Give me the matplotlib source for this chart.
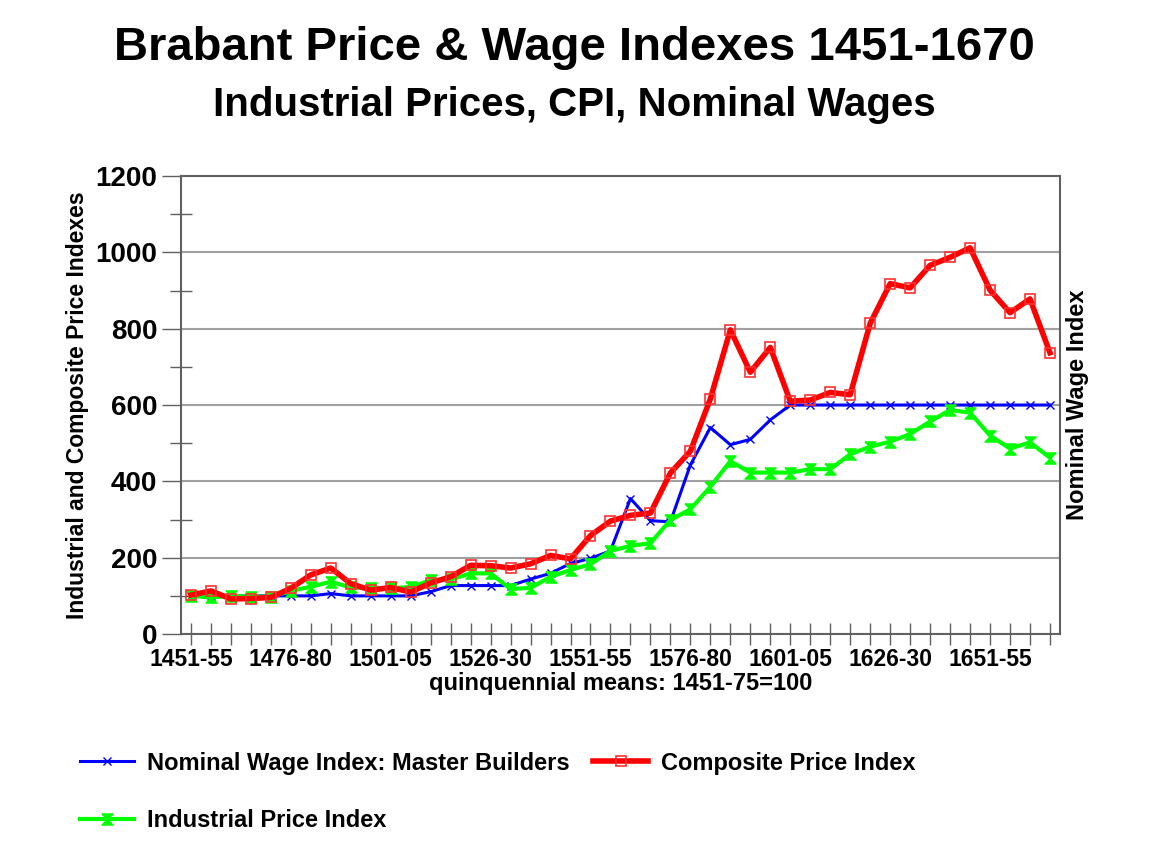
import matplotlib.pyplot as plt
from matplotlib.ticker import MultipleLocator

plt.rcParams['font.family'] = ['Liberation Sans', 'DejaVu Sans']

periods = ['1451-55', '1456-60', '1461-65', '1466-70', '1471-75',
           '1476-80', '1481-85', '1486-90', '1491-95', '1496-00',
           '1501-05', '1506-10', '1511-15', '1516-20', '1521-25',
           '1526-30', '1531-35', '1536-40', '1541-45', '1546-50',
           '1551-55', '1556-60', '1561-65', '1566-70', '1571-75',
           '1576-80', '1581-85', '1586-90', '1591-95', '1596-00',
           '1601-05', '1606-10', '1611-15', '1616-20', '1621-25',
           '1626-30', '1631-35', '1636-40', '1641-45', '1646-50',
           '1651-55', '1656-60', '1661-65', '1666-70']

wage = [100, 100, 100, 100, 100, 100, 100, 106, 100, 100,
        100, 100, 111, 127, 127, 127, 127, 144, 159, 185,
        198, 218, 355, 297, 294, 443, 541, 496, 510, 561,
        600, 600, 600, 600, 600, 600, 600, 600, 600, 600,
        600, 600, 600, 600]

composite = [102, 113, 92, 93, 96, 120, 155, 173, 132, 115,
             122, 110, 134, 150, 180, 179, 173, 184, 206, 197,
             258, 296, 311, 317, 422, 479, 616, 797, 686, 751,
             610, 613, 633, 627, 814, 918, 907, 966, 987, 1012,
             901, 842, 878, 737]

industrial = [100, 96, 100, 98, 98, 113, 124, 137, 122, 120,
              120, 123, 141, 143, 159, 159, 118, 121, 150, 168,
              183, 218, 231, 238, 299, 327, 386, 453, 423, 423,
              423, 432, 432, 471, 491, 504, 524, 557, 587, 580,
              520, 486, 502, 462]

x = list(range(len(periods)))
hourglass = [(-1, 1), (1, 1), (-1, -1), (1, -1), (-1, 1)]

fig = plt.figure(figsize=(11.49, 8.65), dpi=100)
ax = fig.add_axes([0.1575, 0.267, 0.765, 0.5295])

l_wage, = ax.plot(x, wage, color='#0000ff', lw=2.2, marker='x', ms=6, mew=1,
                  label='Nominal Wage Index: Master Builders', zorder=3)
l_ind, = ax.plot(x, industrial, color='#00ff00', lw=3, marker=hourglass, ms=8,
                 label='Industrial Price Index', zorder=4)
l_comp, = ax.plot(x, composite, color='#ff0000', lw=4, marker='s', ms=7,
                  mfc='none', mec='#ff3030', mew=1.2,
                  label='Composite Price Index', zorder=5)

ax.set_xlim(-0.5, len(periods) - 0.5)
ax.set_ylim(0, 1200)
ax.yaxis.set_major_locator(MultipleLocator(200))
ax.yaxis.set_minor_locator(MultipleLocator(100))
ax.grid(axis='y', which='major', color='#a0a0a0', lw=1.5)
ax.set_axisbelow(True)

ax.set_xticks(x)
ax.set_xticklabels([p if i % 5 == 0 else '' for i, p in enumerate(periods)],
                   fontsize=16.5, fontweight='bold')
ax.tick_params(axis='x', direction='inout', length=16, width=1, colors='#606060',
               labelcolor='black', pad=2)
ax.tick_params(axis='y', which='major', direction='out', length=14, width=1,
               colors='#606060', labelcolor='black', labelsize=20, pad=3)
ax.tick_params(axis='y', which='minor', direction='inout', length=16, width=1,
               colors='#606060')
for lab in ax.get_yticklabels():
    lab.set_fontweight('bold')

for s in ax.spines.values():
    s.set_color('#606060')
    s.set_linewidth(1.5)

ax.set_ylabel('Industrial and Composite Price Indexes', fontsize=16.5,
              fontweight='bold', labelpad=5)
ax.set_xlabel('quinquennial means: 1451-75=100', fontsize=17,
              fontweight='bold', labelpad=1)

ax2 = ax.twinx()
ax2.set_ylim(0, 1200)
ax2.set_yticks([])
ax2.set_ylabel('Nominal Wage Index', fontsize=17, fontweight='bold', labelpad=4)
for s in ax2.spines.values():
    s.set_visible(False)

fig.text(0.5, 0.9445, 'Brabant Price & Wage Indexes 1451-1670', ha='center',
         va='center', fontsize=34, fontweight='bold')
fig.text(0.5, 0.879, 'Industrial Prices, CPI, Nominal Wages', ha='center',
         va='center', fontsize=29, fontweight='bold')

fig.legend(handles=[l_wage, l_ind, l_comp], loc='upper left',
           bbox_to_anchor=(0.0696, 0.131), bbox_transform=fig.transFigure,
           ncol=2, frameon=False, handlelength=2.3, borderpad=0,
           borderaxespad=0, labelspacing=1.45, columnspacing=1.0,
           handletextpad=0.55, prop={'weight': 'bold', 'size': 17})

fig.savefig('out.png', dpi=100)
